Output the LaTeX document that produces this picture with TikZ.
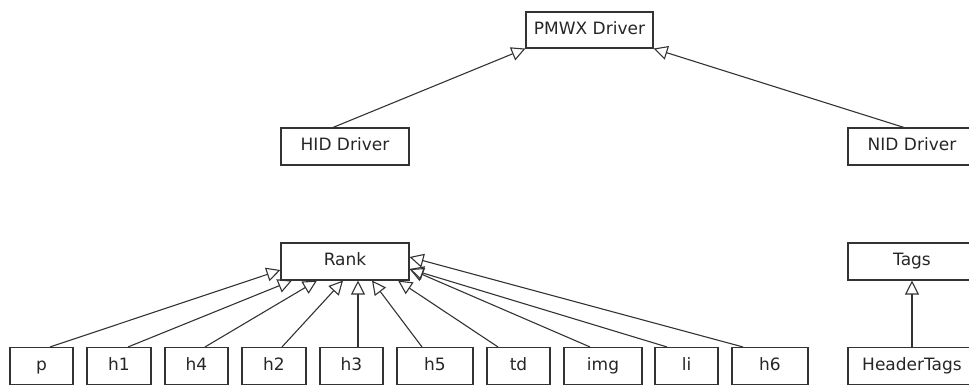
\documentclass[tikz,border=0pt]{standalone}
\usepackage{fontspec}
\setmainfont{DejaVu Sans}
\usetikzlibrary{arrows.meta}
\definecolor{linegray}{rgb}{0.2, 0.2, 0.2}
\definecolor{textgray}{rgb}{0.15, 0.15, 0.15}

\begin{document}
\begin{tikzpicture}[x=1pt,y=-1pt,
  cls/.style={draw=linegray,line width=1.1pt,rectangle,inner sep=0pt,
    minimum height=37pt,text height=12pt,text depth=3.5pt,
    text=textgray,font=\fontsize{17}{20}\selectfont},
  inherit/.style={draw=linegray,line width=1.1pt,
    -{Triangle[open,length=14pt,width=14pt,line width=1.1pt]}},
  every edge/.style={inherit}]

\useasboundingbox (0,0) rectangle (969,384);

\node[cls,minimum width=127pt,minimum height=36pt] (pmwx) at (589.5,30)    {PMWX Driver};
\node[cls,minimum width=128pt] (hid)  at (345,146.5)  {HID Driver};
\node[cls,minimum width=128pt] (nid)  at (912,146.5)  {NID Driver};
\node[cls,minimum width=128pt] (rank) at (345,261.5)  {Rank};
\node[cls,minimum width=128pt] (tags) at (912,261.5)  {Tags};

\node[cls,minimum width=63pt] (p)   at (41.5,366)  {p};
\node[cls,minimum width=64pt] (h1)  at (119,366)   {h1};
\node[cls,minimum width=63pt] (h4)  at (196.5,366) {h4};
\node[cls,minimum width=64pt] (h2)  at (274,366)   {h2};
\node[cls,minimum width=63pt] (h3)  at (351.5,366) {h3};
\node[cls,minimum width=76pt] (h5)  at (435,366)   {h5};
\node[cls,minimum width=63pt] (td)  at (518.5,366) {td};
\node[cls,minimum width=78pt] (img) at (603,366)   {img};
\node[cls,minimum width=63pt] (li)  at (686.5,366) {li};
\node[cls,minimum width=76pt] (h6)  at (770,366)   {h6};
\node[cls,minimum width=128pt] (headertags) at (912,366) {HeaderTags};

\path
    ([xshift=-12pt]hid.north) edge (pmwx.south west)
    ([xshift=-8pt]nid.north)  edge (pmwx.south east)
    (headertags) edge (tags);

\path
    ([xshift=8.5pt]p.north)    edge ([yshift=-8.5pt]rank.west)
    ([xshift=9pt]h1.north)     edge ([xshift=-53pt]rank.south)
    ([xshift=8.5pt]h4.north)   edge ([xshift=-28pt]rank.south)
    ([xshift=8pt]h2.north)     edge ([xshift=-2pt]rank.south)
    ([xshift=6.5pt]h3.north)   edge ([xshift=13pt]rank.south)
    ([xshift=-13pt]h5.north)   edge ([xshift=27pt]rank.south)
    ([xshift=-20.5pt]td.north) edge ([xshift=53pt]rank.south)
    ([xshift=-13pt]img.north)  edge ([yshift=-7.5pt]rank.east)
    ([xshift=-19.5pt]li.north) edge ([yshift=-7.5pt]rank.east)
    ([xshift=-27pt]h6.north)   edge ([yshift=4.5pt]rank.east);
\end{tikzpicture}
\end{document}
